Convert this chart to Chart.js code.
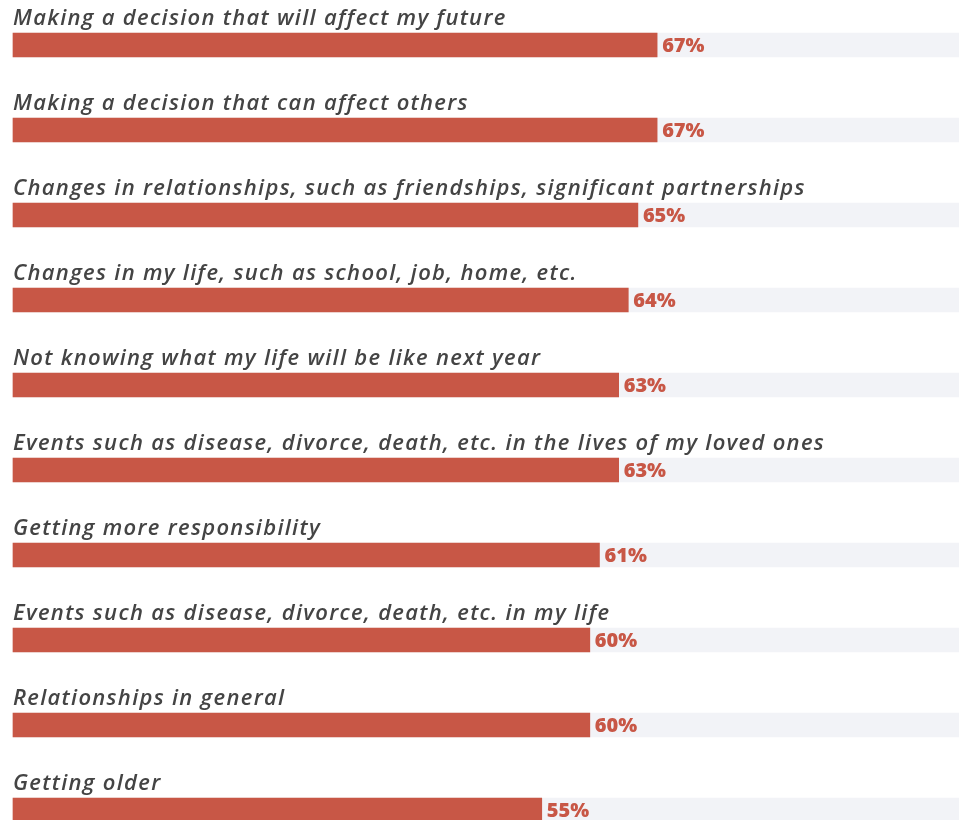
<!DOCTYPE html>
<html>
<head>
<meta charset="utf-8">
<script src="https://cdn.jsdelivr.net/npm/chart.js@4"></script>
<style>
  html, body { margin: 0; padding: 0; background: #fff; overflow: hidden; }
  #wrap { width: 959px; height: 820px; position: relative; }
</style>
</head>
<body>
<div id="wrap"><canvas id="chartStress"></canvas></div>
<script>
// Horizontal bars with a light track behind them, label above each bar
const categories = [
  'Making a decision that will affect my future',
  'Making a decision that can affect others',
  'Changes in relationships, such as friendships, significant partnerships',
  'Changes in my life, such as school, job, home, etc.',
  'Not knowing what my life will be like next year',
  'Events such as disease, divorce, death, etc. in the lives of my loved ones',
  'Getting more responsibility',
  'Events such as disease, divorce, death, etc. in my life',
  'Relationships in general',
  'Getting older'
];
const percentValues = [67, 67, 65, 64, 63, 63, 61, 60, 60, 55];
const trackMax = 98.4;
const trackValues = categories.map(() => trackMax);

const BAR_RED = '#c85746';
const TRACK = '#f2f3f7';
const TEXT_GRAY = '#444444';

// Category text above each bar + value label at bar end
const barLabels = {
  id: 'barLabels',
  afterDatasetsDraw(chart) {
    const ctx = chart.ctx;
    const meta = chart.getDatasetMeta(0);
    ctx.save();
    meta.data.forEach((bar, i) => {
      const top = bar.y - bar.height / 2;
      ctx.fillStyle = TEXT_GRAY;
      ctx.font = 'italic 600 22px "Open Sans", sans-serif';
      ctx.letterSpacing = '1.3px';
      ctx.textAlign = 'left';
      ctx.textBaseline = 'alphabetic';
      ctx.fillText(categories[i], chart.chartArea.left, top - 8);

      ctx.fillStyle = BAR_RED;
      ctx.font = '800 20px "Open Sans", sans-serif';
      ctx.letterSpacing = '0px';
      ctx.textBaseline = 'middle';
      ctx.fillText(percentValues[i] + '%', bar.x + 5, bar.y + 1);
    });
    ctx.restore();
  }
};

const ctx = document.getElementById('chartStress').getContext('2d');
new Chart(ctx, {
  type: 'bar',
  data: {
    labels: categories,
    datasets: [
      {
        label: 'Percent',
        data: percentValues,
        backgroundColor: BAR_RED,
        barThickness: 24,
        grouped: false,
        clip: false,
        order: 0
      },
      {
        label: 'Track',
        data: trackValues,
        backgroundColor: TRACK,
        barThickness: 24,
        grouped: false,
        clip: false,
        order: 1
      }
    ]
  },
  options: {
    indexAxis: 'y',
    responsive: true,
    maintainAspectRatio: false,
    animation: false,
    layout: { padding: { left: 13, right: 0, top: 45, bottom: 10 } },
    scales: {
      x: { display: false, min: 0, max: trackMax },
      y: { display: false, offset: false }
    },
    plugins: {
      legend: { display: false },
      tooltip: { enabled: false }
    }
  },
  plugins: [barLabels]
});
</script>
</body>
</html>
